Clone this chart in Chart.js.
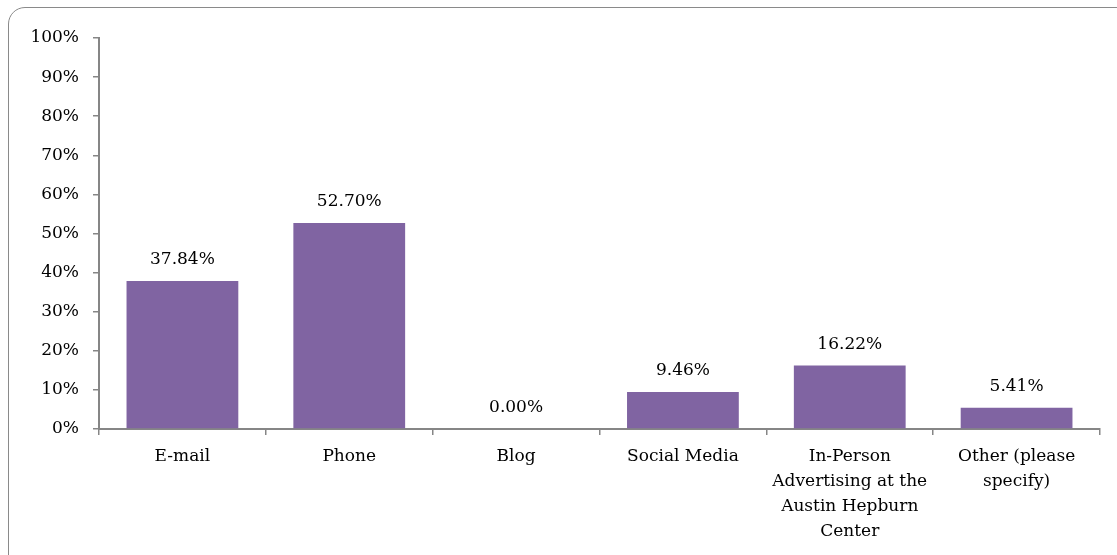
<!DOCTYPE html>
<html>
<head>
<meta charset="utf-8">
<script src="https://cdn.jsdelivr.net/npm/chart.js@4.4.1/dist/chart.umd.min.js"></script>
<style>
  html, body { margin: 0; padding: 0; background: #fff; overflow: hidden; }
  #wrap { position: relative; width: 1117px; height: 555px; overflow: hidden; }
  #frame {
    position: absolute; left: 8px; top: 7px; width: 1130px; height: 570px;
    border: 1.5px solid #8a8a8a; border-radius: 17px; box-sizing: border-box;
    pointer-events: none;
  }
  canvas { position: absolute; left: 0; top: 0; }
</style>
</head>
<body>
<div id="wrap">
  <canvas id="chart" width="1117" height="555"></canvas>
  <div id="frame"></div>
</div>
<script>
// Contact methods and share of responses (%)
const categories = [
  "E-mail",
  "Phone",
  "Blog",
  "Social Media",
  ["In-Person", "Advertising at the", "Austin Hepburn", "Center"],
  ["Other (please", "specify)"]
];
const shares = [37.84, 52.70, 0.00, 9.46, 16.22, 5.41];
const yTicks = [0, 10, 20, 30, 40, 50, 60, 70, 80, 90, 100];

const FONT = "'DejaVu Serif', 'Liberation Serif', serif";
const SIZE = 17;
const AXIS = "#868686";

// Writes each bar's value above it
const valueLabels = {
  id: "valueLabels",
  afterDatasetsDraw(chart) {
    const ctx = chart.ctx;
    const meta = chart.getDatasetMeta(0);
    ctx.save();
    ctx.font = SIZE + "px " + FONT;
    ctx.fillStyle = "#000";
    ctx.textAlign = "center";
    ctx.textBaseline = "alphabetic";
    meta.data.forEach((bar, i) => {
      const v = chart.data.datasets[0].data[i];
      ctx.fillText(v.toFixed(2) + "%", bar.x, bar.y - 17);
    });
    ctx.restore();
  }
};

new Chart(document.getElementById("chart"), {
  type: "bar",
  data: {
    labels: categories,
    datasets: [{
      data: shares,
      backgroundColor: "#8064A2",
      borderWidth: 0,
      barPercentage: 0.67,
      categoryPercentage: 1.0
    }]
  },
  options: {
    responsive: false,
    animation: false,
    events: [],
    layout: { padding: { top: 38, right: 17, left: 0, bottom: 0 } },
    plugins: { legend: { display: false }, tooltip: { enabled: false } },
    scales: {
      x: {
        offset: true,
        grid: { display: true, offset: true, drawOnChartArea: false, drawTicks: true, tickLength: 6, color: AXIS, lineWidth: 1.5 },
        border: { display: true, color: AXIS, width: 2 },
        ticks: { color: "#000", padding: 9, maxRotation: 0, autoSkip: false,
                 font: { family: FONT, size: SIZE, lineHeight: 25 / SIZE } },
        afterFit(scale) { scale.height = 126; }
      },
      y: {
        min: 0, max: 100,
        afterBuildTicks(scale) { scale.ticks = yTicks.map(v => ({ value: v })); },
        grid: { display: true, drawOnChartArea: false, drawTicks: true, tickLength: 6, color: AXIS, lineWidth: 1.5 },
        border: { display: true, color: AXIS, width: 2 },
        ticks: { color: "#000", padding: 14, callback: v => v + "%",
                 font: { family: FONT, size: SIZE } },
        afterFit(scale) { scale.width = 99; }
      }
    }
  },
  plugins: [valueLabels]
});
</script>
</body>
</html>
